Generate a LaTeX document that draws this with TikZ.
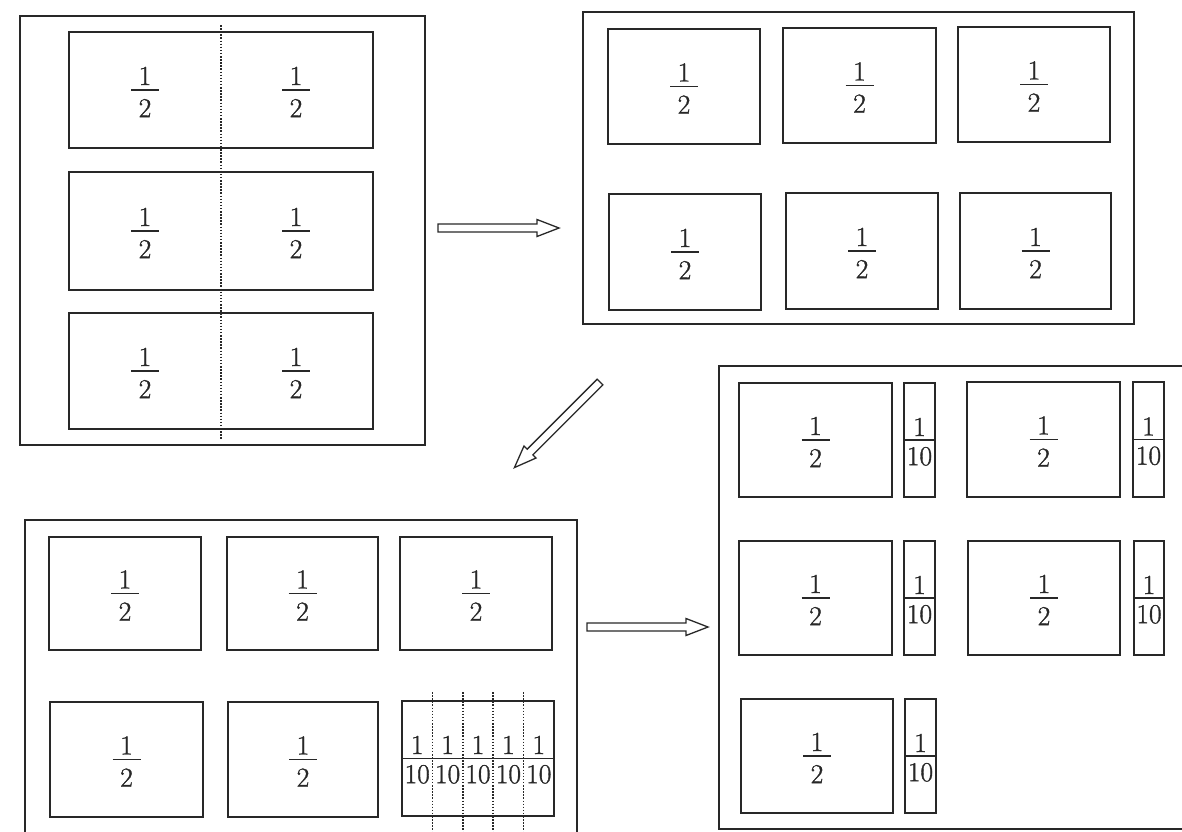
\documentclass[tikz,border=0pt]{standalone}
\usepackage{fontspec}
\newfontfamily\numfont{Latin Modern Roman}[FakeBold=1.2]
\definecolor{ink}{RGB}{40,40,40}
% fraction: name, x, y (bar centre), half width of bar
\newcommand{\fr}[4]{%
  \coordinate (#1L) at ({#2-#4},{#3});
  \coordinate (#1R) at ({#2+#4},{#3});
  \draw[barline] (#1L) -- (#1R);
  \node[num, anchor=south] (#1n) at ({#2},{#3-5}) {1};
  \node[num, anchor=north] (#1d) at ({#2},{#3+9}) {2};
}
\newcommand{\rect}[7]{\node[#1, minimum width={#5-#3}, minimum height={#6-#4}] (#2) at ({(#3+#5)/2},{(#4+#6)/2}) {};
  \ifx&#7&\else\fr{#2f}{(#3+#5)/2}{(#4+#6)/2}{14}\fi}
\newcommand{\tenth}[5]{%
  \node[box, minimum width={#4-#2}, minimum height={#5-#3}] (#1) at ({(#2+#4)/2},{(#3+#5)/2}) {};
  \draw[barline] (#1.west) -- (#1.east);
  \node[num, anchor=south] (#1n) at ([yshift=4pt]#1.center) {1};
  \node[num, anchor=north] (#1d) at ([yshift=-7pt]#1.center) {10};
}
\tikzset{
  panel/.style={draw=ink, line width=1.8pt, inner sep=0pt, outer sep=0pt},
  box/.style={draw=ink, line width=1.5pt, inner sep=0pt, outer sep=0pt},
  num/.style={inner sep=0pt, outer sep=0pt, text=ink, font=\numfont\fontsize{27.5}{32}\selectfont},
  barline/.style={draw=ink, line width=1.2pt},
  fold/.style={draw=ink, line width=1.6pt, dash pattern=on 1.5pt off 1.6pt},
  harrow/.pic={\draw[draw=ink, line width=1.3pt, line join=miter]
     (0,-4) -- (99,-4) -- (99,-8.5) -- (121,0) -- (99,8.5) -- (99,4) -- (0,4) -- cycle;}
}
\begin{document}
\begin{tikzpicture}[x=1pt, y=-1pt]
\useasboundingbox (0,0) rectangle (1182,831);
\clip (0,0) rectangle (1182,831);
% ---------- panel 1 ----------
\rect{panel}{P1}{20}{16}{425}{445}{}
\rect{box}{P1a}{69}{32}{373}{148}{}
\rect{box}{P1b}{69}{172}{373}{290}{}
\rect{box}{P1c}{69}{313}{373}{429}{}
\fr{P1aL}{145}{90}{14}
\fr{P1aR}{296}{90}{14}
\fr{P1bL}{145}{231}{14}
\fr{P1bR}{296}{231}{14}
\fr{P1cL}{145}{371}{14}
\fr{P1cR}{296}{371}{14}
\coordinate (F1t) at (221,25);
\coordinate (F1b) at (221,440);
\draw[fold] (F1t) -- (F1b);
% ---------- arrow 1 ----------
\coordinate (A1) at (438,228);
\pic at (A1) {harrow};
% ---------- panel 2 ----------
\rect{panel}{P2}{583}{12}{1134}{324}{}
\rect{box}{P2a}{608}{29}{760}{144}{h}
\rect{box}{P2b}{783}{28}{936}{143}{h}
\rect{box}{P2c}{958}{27}{1110}{142}{h}
\rect{box}{P2d}{609}{194}{761}{310}{h}
\rect{box}{P2e}{786}{193}{938}{309}{h}
\rect{box}{P2f}{960}{193}{1111}{309}{h}
% ---------- arrow 2 ----------
\coordinate (A2) at (600,382);
\pic[rotate=225] at (A2) {harrow};
% ---------- panel 3 ----------
\rect{panel}{P3}{25}{520}{577}{860}{}
\rect{box}{P3a}{49}{537}{201}{650}{h}
\rect{box}{P3b}{227}{537}{378}{650}{h}
\rect{box}{P3c}{400}{537}{552}{650}{h}
\rect{box}{P3d}{50}{702}{203}{817}{h}
\rect{box}{P3e}{228}{702}{378}{817}{h}
\rect{box}{P3f}{402}{701}{554}{816}{}
\draw[barline] (P3f.west) -- (P3f.east);
\foreach \i in {0,...,4}{
  \node[num, anchor=south] (T\i n) at ({402+30.4*(\i+0.5)},754) {1};
  \node[num, anchor=north] (T\i d) at ({402+30.4*(\i+0.5)},765) {10};
}
\foreach \i in {1,...,4}{
  \coordinate (D\i t) at ({402+30.4*\i},692);
  \coordinate (D\i b) at ({402+30.4*\i},840);
  \draw[fold] (D\i t) -- (D\i b);
}
% ---------- arrow 3 ----------
\coordinate (A3) at (587,627);
\pic at (A3) {harrow};
% ---------- panel 4 ----------
\rect{panel}{P4}{719}{366}{1200}{829}{}
\rect{box}{P4a}{739}{383}{892}{497}{h}
\tenth{P4s}{904}{383}{935}{497}
\rect{box}{P4b}{967}{382}{1120}{497}{h}
\tenth{P4t}{1133}{382}{1164}{497}
\rect{box}{P4c}{739}{541}{892}{655}{h}
\tenth{P4u}{904}{541}{935}{655}
\rect{box}{P4d}{968}{541}{1120}{655}{h}
\tenth{P4v}{1134}{541}{1164}{655}
\rect{box}{P4e}{741}{699}{893}{813}{h}
\tenth{P4w}{905}{699}{936}{813}
\end{tikzpicture}
\end{document}
